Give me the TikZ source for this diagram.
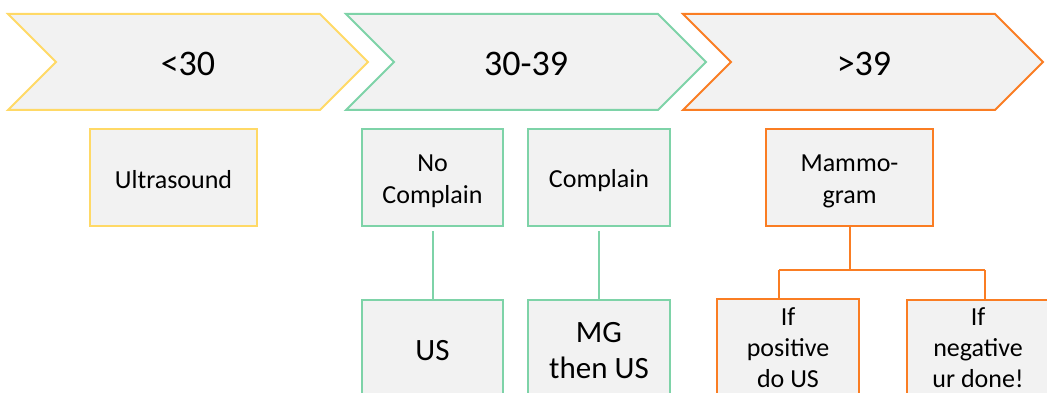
\documentclass[tikz,border=0pt]{standalone}
\usepackage{fontspec}
\setmainfont{Carlito}
\definecolor{cyel}{RGB}{255,217,102}
\definecolor{cgrn}{RGB}{126,211,168}
\definecolor{corg}{RGB}{250,125,35}
\definecolor{cfill}{RGB}{242,242,242}
\begin{document}
\begin{tikzpicture}[x=1pt,y=-1pt,
  chev/.style={line width=2pt, fill=cfill, line join=miter},
  chevtxt/.style={font=\fontsize{36}{43}\selectfont, inner sep=0pt},
  box/.style={draw, line width=2pt, fill=cfill, rectangle, inner sep=0pt},
  txt/.style={inner sep=0pt, align=center, font=\fontsize{26}{32}\selectfont},
  postxt/.style={txt, font=\fontsize{26}{31}\selectfont},
  bigtxt/.style={txt, font=\fontsize{31}{36}\selectfont},
  link/.style={line width=2pt}]
\useasboundingbox (0,0) rectangle (1047,393);
\clip (0,0) rectangle (1047,393);
% chevrons
\draw[chev, draw=cyel] (8,14) -- (320,14) -- (368,62) -- (320,110) -- (8,110) -- (56,62) -- cycle;
\draw[chev, draw=cgrn] (346,14) -- (658,14) -- (706,62) -- (658,110) -- (346,110) -- (394,62) -- cycle;
\draw[chev, draw=corg] (683,14) -- (995,14) -- (1043,62) -- (995,110) -- (683,110) -- (731,62) -- cycle;
\node[chevtxt] (t1) at (188,64) {<30};
\node[chevtxt] (t2) at (526,64) {30-39};
\node[chevtxt] (t3) at (864,64) {>39};
% boxes
\node[box, draw=cyel, minimum width=167pt, minimum height=96pt] (ultra) at (173.5,177.5) {};
\node[box, draw=cgrn, minimum width=141pt, minimum height=97pt] (nc) at (432.5,177.5) {};
\node[box, draw=cgrn, minimum width=142pt, minimum height=97pt] (cp) at (599,177.5) {};
\node[box, draw=cgrn, minimum width=141pt, minimum height=100pt] (us) at (432.5,350) {};
\node[box, draw=cgrn, minimum width=142pt, minimum height=100pt] (mgus) at (599,350) {};
\node[box, draw=corg, minimum width=167pt, minimum height=97pt] (mm) at (849.5,177.5) {};
\node[box, draw=corg, minimum width=142pt, minimum height=100pt] (pos) at (788,349) {};
\node[box, draw=corg, minimum width=142pt, minimum height=100pt] (neg) at (978,350) {};
% texts
\node[txt] (ultra-t) at ([yshift=-2pt]ultra.center) {Ultrasound};
\node[txt] (nc-t) at ([yshift=-4pt]nc.center) {No\\Complain};
\node[txt] (cp-t) at ([yshift=-3pt]cp.center) {Complain};
\node[bigtxt] (us-t) at ([yshift=-1pt]us.center) {US};
\node[bigtxt] (mgus-t) at ([yshift=-1pt]mgus.center) {MG\\then US};
\node[txt] (mm-t) at ([yshift=-4pt]mm.center) {Mammo-\\gram};
\node[postxt] (pos-t) at ([yshift=1.5pt]pos.center) {If\\positive\\do US};
\node[postxt] (neg-t) at ([yshift=2.5pt]neg.center) {If\\negative\\ur done!};
% connectors
\draw[link, cgrn] ([yshift=-4pt]nc.south) -- (us.north);
\draw[link, cgrn] ([yshift=-4pt]cp.south) -- (mgus.north);
\coordinate (j) at (849.5,270);
\coordinate (bl) at (779,270);
\coordinate (br) at (985,270);
\draw[link, corg] (mm.south) -- (j);
\draw[link, corg] (bl) -- (br);
\draw[link, corg] (bl) -- (bl |- pos.north);
\draw[link, corg] (br) -- (br |- neg.north);
\end{tikzpicture}
\end{document}
